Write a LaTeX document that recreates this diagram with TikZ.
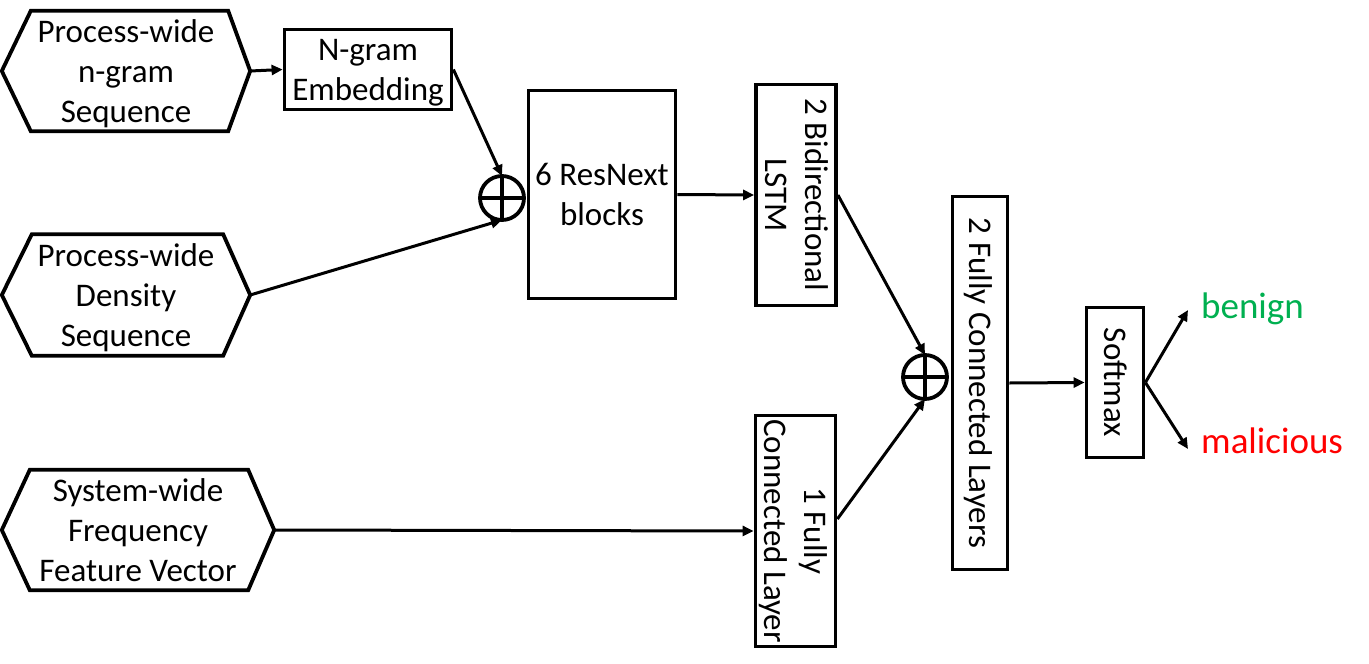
\documentclass[tikz,border=0pt]{standalone}
\usepackage{fontspec}
\setmainfont{Carlito}
\usetikzlibrary{arrows.meta}
\definecolor{benigngreen}{RGB}{0,176,80}
\definecolor{malred}{RGB}{255,0,0}
\newcommand{\lowtext}[1]{\raisebox{-3pt}[\height][\depth]{\begin{tabular}{@{}c@{}}#1\end{tabular}}}
\begin{document}
\begin{tikzpicture}[x=1pt,y=-1pt,
  txt/.style={align=center,font=\fontsize{33}{40}\selectfont,inner sep=0pt},
  box/.style={draw,line width=3.8pt,inner sep=0pt,align=center,font=\fontsize{33}{40}\selectfont},
  sum/.style={draw,circle,line width=3.8pt,minimum size=44pt,inner sep=0pt,outer sep=0pt},
  hexline/.style={line width=3.8pt,line join=miter},
  conn/.style={line width=3pt,-{Triangle[length=11pt,width=10pt]}},
  outtxt/.style={anchor=base west,inner sep=0pt,font=\fontsize{37}{44}\selectfont}
]
\useasboundingbox (0,0) rectangle (1369,664);

% input hexagons
\node[txt,minimum width=248pt,minimum height=112pt] (h1) at (126,71) {\lowtext{Process-wide\\n-gram\\Sequence}};
\node[txt,minimum width=248pt,minimum height=121pt] (h2) at (126,295) {\lowtext{Process-wide\\Density\\Sequence}};
\node[txt,minimum width=272pt,minimum height=113pt] (h3) at (138,530) {\lowtext{System-wide\\Frequency\\Feature Vector}};
\foreach \h/\l/\r in {h1/29/22, h2/30/27, h3/28/26}{
  \draw[hexline] (\h.west) -- ([xshift=\l pt]\h.north west) -- ([xshift=-\r pt]\h.north east)
    -- (\h.east) -- ([xshift=-\r pt]\h.south east) -- ([xshift=\l pt]\h.south west) -- cycle;
}

% boxes
\node[box,minimum width=167pt,minimum height=72pt] (ngram) at (368,69.5) {\lowtext{N-gram\\Embedding}};
\node[box,minimum width=147pt,minimum height=208pt] (resnext) at (602,194.5) {\lowtext{6 ResNext\\blocks}};
\node[box,minimum width=79pt,minimum height=221pt] (lstm) at (796,195)
  {\rotatebox{-90}{\lowtext{2 Bidirectional\\LSTM}}};
\node[box,minimum width=80pt,minimum height=231pt] (fc1) at (795.5,531)
  {\rotatebox{-90}{\lowtext{1 Fully\\Connected Layer}}};
\node[box,minimum width=55pt,minimum height=373pt] (fc2) at (980,383)
  {\rotatebox{-90}{\lowtext{2 Fully Connected Layers}}};
\node[box,minimum width=57pt,minimum height=150pt] (soft) at (1115,382.5)
  {\rotatebox{-90}{\lowtext{Softmax}}};

% sum nodes
\node[sum] (s1) at (502,198) {};
\node[sum] (s2) at (925,377) {};
\foreach \s in {s1,s2}{
  \draw[line width=3.8pt] (\s.north) -- (\s.south) (\s.west) -- (\s.east);
}

% outputs
\node[outtxt,text=benigngreen] (ben) at (1201,318) {benign};
\node[outtxt,text=malred] (mal) at (1201,453) {malicious};
\coordinate (bt) at (1188,310);
\coordinate (mt) at (1188,449);

% connectors
\draw[conn] (h1.east) -- (ngram.west);
\draw[conn] (ngram.east) -- (s1.north);
\draw[conn] (h2.east) -- (s1.south);
\draw[conn] (resnext.east) -- (lstm.west);
\draw[conn] (lstm.east) -- (s2.north);
\draw[conn] (h3.east) -- (fc1.west);
\draw[conn] ([yshift=12pt]fc1.east) -- (s2.south);
\draw[conn] (fc2.east) -- (soft.west);
\draw[conn] (soft.east) -- (bt);
\draw[conn] (soft.east) -- (mt);
\end{tikzpicture}
\end{document}
